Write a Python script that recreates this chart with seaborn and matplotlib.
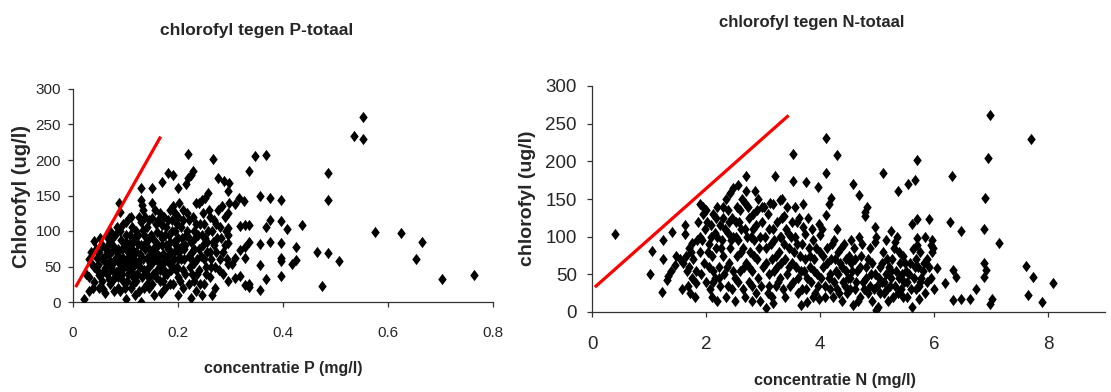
import matplotlib
matplotlib.use("Agg")
import matplotlib.pyplot as plt
import seaborn as sns
import pandas as pd

# ---------------- data: chlorofyl vs P-totaal (mg/l, ug/l) ----------------
p_dense = [
    (0.02, 4), (0.025, 40), (0.03, 15), (0.03, 35), (0.035, 55), (0.04, 86), (0.04, 28), (0.045, 45),
    (0.045, 62), (0.05, 20), (0.05, 38), (0.05, 70), (0.048, 52), (0.035, 70), (0.04, 50),
    (0.055, 80), (0.055, 30), (0.06, 12), (0.06, 48), (0.06, 65), (0.065, 92), (0.065, 40), (0.07, 85),
    (0.07, 25), (0.07, 58), (0.075, 72), (0.075, 45), (0.08, 35), (0.08, 95), (0.08, 60), (0.078, 15),
    (0.072, 50), (0.055, 60), (0.058, 42), (0.062, 75), (0.068, 32), (0.068, 68), (0.073, 88), (0.077, 55),
    (0.085, 20), (0.085, 75), (0.088, 139), (0.09, 127), (0.09, 48), (0.09, 100), (0.095, 62), (0.095, 30),
    (0.1, 4), (0.1, 85), (0.1, 112), (0.1, 55), (0.105, 70), (0.105, 40), (0.108, 95), (0.11, 20),
    (0.11, 65), (0.11, 120), (0.098, 78), (0.082, 42), (0.083, 70), (0.087, 55), (0.092, 88), (0.093, 40),
    (0.097, 50), (0.102, 30), (0.103, 60), (0.107, 82), (0.09, 15),
    (0.115, 50), (0.115, 85), (0.12, 30), (0.12, 100), (0.12, 70), (0.125, 58), (0.125, 15), (0.129, 160),
    (0.129, 144), (0.132, 137), (0.133, 130), (0.13, 0), (0.13, 112), (0.13, 80), (0.135, 45), (0.135, 95),
    (0.14, 62), (0.14, 25), (0.14, 105), (0.138, 120), (0.112, 42), (0.113, 75), (0.117, 60), (0.118, 92),
    (0.122, 40), (0.123, 82), (0.127, 68), (0.128, 50), (0.133, 60), (0.137, 75), (0.115, 25),
    (0.145, 75), (0.145, 35), (0.15, 160), (0.15, 140), (0.15, 55), (0.15, 118), (0.155, 88), (0.155, 10),
    (0.16, 45), (0.16, 98), (0.16, 68), (0.165, 125), (0.165, 30), (0.168, 12), (0.169, 169), (0.17, 80),
    (0.17, 108), (0.17, 55), (0.142, 48), (0.143, 88), (0.147, 65), (0.152, 40), (0.153, 75), (0.157, 60),
    (0.158, 110), (0.162, 80), (0.163, 55), (0.167, 95), (0.145, 20),
]
p_fill = [
    (0.03, 60), (0.038, 20), (0.043, 75), (0.052, 90), (0.057, 18), (0.063, 55), (0.067, 80), (0.071, 100),
    (0.074, 30), (0.079, 78), (0.083, 105), (0.086, 35), (0.089, 62), (0.094, 75), (0.096, 110), (0.099, 20),
    (0.101, 95), (0.104, 48), (0.106, 118), (0.109, 58), (0.112, 105), (0.114, 35), (0.116, 70), (0.119, 10),
    (0.121, 55), (0.124, 95), (0.126, 120), (0.131, 35), (0.134, 102), (0.136, 20), (0.139, 85), (0.141, 38),
    (0.144, 115), (0.146, 55), (0.149, 95), (0.151, 25), (0.154, 68), (0.156, 130), (0.159, 35), (0.161, 115),
    (0.164, 65), (0.166, 45), (0.169, 90), (0.171, 30), (0.174, 120), (0.176, 58), (0.179, 40), (0.181, 75),
    (0.184, 130), (0.186, 45), (0.189, 100), (0.191, 25), (0.194, 125), (0.196, 80), (0.199, 50), (0.201, 140),
    (0.204, 30), (0.206, 60), (0.209, 115), (0.211, 75), (0.214, 40), (0.218, 125), (0.221, 90), (0.224, 60),
    (0.226, 40), (0.229, 120), (0.231, 75), (0.234, 110), (0.236, 40), (0.239, 95), (0.241, 25), (0.244, 65),
    (0.248, 125), (0.251, 90), (0.254, 40), (0.256, 70), (0.259, 130), (0.263, 50), (0.268, 80), (0.273, 110),
    (0.278, 45), (0.283, 135), (0.286, 70), (0.291, 100), (0.293, 60), (0.298, 140),
]
p_mid = [
    (0.175, 40), (0.175, 95), (0.18, 181), (0.18, 65), (0.18, 115), (0.185, 25), (0.185, 85), (0.19, 179),
    (0.19, 50), (0.19, 135), (0.195, 100), (0.195, 72), (0.2, 160), (0.2, 120), (0.2, 35), (0.2, 90),
    (0.2, 60), (0.172, 68), (0.173, 45), (0.177, 80), (0.178, 105), (0.182, 55), (0.183, 95), (0.187, 70),
    (0.188, 115), (0.192, 85), (0.193, 60), (0.197, 45), (0.198, 110), (0.175, 20), (0.2, 10),
    (0.205, 78), (0.205, 105), (0.21, 45), (0.21, 130), (0.21, 20), (0.215, 95), (0.216, 166), (0.219, 175),
    (0.219, 209), (0.22, 65), (0.22, 115), (0.224, 179), (0.225, 5), (0.225, 85), (0.228, 185), (0.23, 30),
    (0.23, 100), (0.23, 55), (0.202, 70), (0.207, 90), (0.212, 60), (0.213, 80), (0.217, 100), (0.222, 50),
    (0.227, 70), (0.22, 25),
    (0.235, 140), (0.235, 15), (0.24, 139), (0.24, 75), (0.24, 45), (0.245, 95), (0.246, 144), (0.25, 110),
    (0.25, 25), (0.25, 60), (0.252, 146), (0.255, 85), (0.257, 154), (0.26, 35), (0.26, 120), (0.26, 70),
    (0.232, 90), (0.237, 60), (0.242, 110), (0.247, 80), (0.253, 50), (0.258, 100), (0.245, 10),
    (0.265, 100), (0.267, 201), (0.268, 115), (0.27, 50), (0.27, 20), (0.275, 90), (0.277, 130), (0.277, 174),
    (0.28, 60), (0.28, 105), (0.285, 40), (0.288, 171), (0.29, 80), (0.295, 30), (0.296, 125), (0.296, 157),
    (0.298, 168), (0.296, 104), (0.296, 95), (0.296, 83), (0.296, 54), (0.29, 120), (0.262, 60),
    (0.266, 85), (0.272, 70), (0.282, 90), (0.265, 10),
]
p_high = [
    (0.302, 54), (0.308, 62), (0.308, 34), (0.308, 138), (0.317, 146), (0.318, 36), (0.318, 73), (0.318, 107),
    (0.325, 142), (0.328, 24), (0.328, 62), (0.328, 78), (0.328, 109), (0.336, 21), (0.336, 25),
    (0.336, 84), (0.336, 109), (0.336, 184), (0.347, 205), (0.357, 17), (0.357, 52), (0.357, 82), (0.357, 150),
    (0.367, 32), (0.367, 106), (0.367, 207), (0.375, 84), (0.375, 115), (0.375, 146), (0.396, 37), (0.396, 58),
    (0.396, 62), (0.396, 83), (0.396, 114), (0.396, 144), (0.407, 103), (0.418, 54), (0.425, 59), (0.425, 77),
    (0.436, 109), (0.465, 71), (0.475, 23), (0.485, 69), (0.485, 144), (0.485, 182), (0.506, 58),
    (0.535, 234), (0.553, 229), (0.553, 261), (0.575, 99), (0.624, 97), (0.653, 60), (0.664, 85),
    (0.703, 32), (0.763, 38),
]
p_line_x = [0.005, 0.167]
p_line_y = [21, 233]

# ---------------- data: chlorofyl vs N-totaal ----------------
n_low = [
    (0.40, 104), (1.05, 81), (1.02, 51), (1.22, 26), (1.25, 96), (1.25, 71), (1.40, 106), (1.31, 42),
    (1.34, 48), (1.45, 62), (1.48, 75), (1.38, 55),
    (1.63, 115), (1.63, 103), (1.55, 70), (1.58, 30), (1.6, 65), (1.65, 75), (1.7, 60), (1.7, 85),
    (1.72, 25), (1.75, 45), (1.78, 70), (1.8, 20), (1.82, 55), (1.85, 95), (1.89, 144), (1.95, 140),
    (1.89, 100), (1.9, 80), (1.92, 50), (1.95, 130), (1.98, 110), (1.97, 65), (1.68, 35), (1.75, 92),
    (2.0, 135), (2.02, 120), (2.05, 90), (2.05, 60), (2.08, 100), (2.1, 20), (2.1, 75), (2.12, 130),
    (2.15, 45), (2.15, 105), (2.18, 85), (2.2, 15), (2.2, 140), (2.22, 60), (2.25, 115), (2.25, 35),
    (2.28, 95), (2.3, 75), (2.3, 125), (2.32, 50), (2.35, 20), (2.35, 150), (2.38, 105), (2.4, 65),
    (2.42, 158), (2.42, 85), (2.45, 125), (2.45, 30), (2.48, 164), (2.48, 100), (2.5, 45), (2.5, 15),
    (2.12, 40), (2.38, 135),
]
n_mid = [
    (2.52, 120), (2.55, 75), (2.57, 169), (2.57, 95), (2.6, 55), (2.6, 135), (2.62, 110), (2.65, 30),
    (2.65, 85), (2.68, 145), (2.7, 65), (2.71, 180), (2.71, 160), (2.72, 100), (2.75, 40), (2.75, 125),
    (2.78, 80), (2.8, 15), (2.8, 55), (2.82, 110), (2.85, 95), (2.86, 160), (2.88, 25), (2.9, 70),
    (2.9, 135), (2.92, 45), (2.95, 100), (2.95, 15), (2.98, 120), (3.0, 60), (2.55, 140), (2.68, 20),
    (2.83, 130),
    (3.02, 140), (3.05, 5), (3.05, 85), (3.08, 25), (3.1, 110), (3.1, 50), (3.12, 145), (3.15, 70),
    (3.15, 20), (3.18, 144), (3.2, 95), (3.21, 180), (3.22, 35), (3.25, 120), (3.25, 60), (3.28, 80),
    (3.3, 149), (3.3, 45), (3.32, 100), (3.33, 150), (3.35, 30), (3.36, 127), (3.38, 70), (3.4, 110),
    (3.42, 140), (3.42, 50), (3.45, 85), (3.48, 35), (3.5, 120), (3.5, 65), (3.18, 12),
    (3.53, 210), (3.53, 174), (3.56, 140), (3.59, 119), (3.6, 90), (3.62, 45), (3.65, 75), (3.67, 9),
    (3.7, 144), (3.71, 113), (3.72, 55), (3.74, 104), (3.75, 30), (3.76, 172), (3.78, 13), (3.8, 85),
    (3.82, 60), (3.85, 40), (3.88, 95), (3.9, 70), (3.92, 25), (3.95, 50), (3.97, 166), (3.98, 17),
    (3.99, 117), (4.0, 102), (4.0, 80), (3.58, 60), (3.68, 30), (3.86, 110),
]
n_fill = [
    (1.66, 55), (1.74, 80), (1.83, 38), (1.86, 120), (1.93, 95), (2.0, 40), (2.03, 80), (2.07, 30),
    (2.09, 115), (2.13, 55), (2.17, 125), (2.19, 100), (2.23, 45), (2.26, 85), (2.29, 140), (2.33, 110),
    (2.36, 60), (2.39, 35), (2.41, 120), (2.44, 95), (2.47, 55), (2.53, 100), (2.56, 40), (2.58, 120),
    (2.61, 80), (2.63, 150), (2.66, 60), (2.69, 110), (2.73, 140), (2.76, 60), (2.79, 100), (2.81, 35),
    (2.84, 75), (2.87, 115), (2.91, 150), (2.93, 85), (2.96, 35), (2.99, 140), (3.03, 100), (3.06, 65),
    (3.09, 130), (3.11, 35), (3.14, 90), (3.17, 110), (3.19, 55), (3.23, 75), (3.26, 40), (3.29, 100),
    (3.31, 65), (3.34, 125), (3.37, 90), (3.39, 20), (3.43, 105), (3.46, 60), (3.49, 100), (3.52, 40),
    (3.55, 80), (3.57, 100), (3.61, 25), (3.64, 125), (3.66, 55), (3.69, 90), (3.73, 70), (3.77, 45),
    (3.79, 125), (3.83, 75), (3.87, 20), (3.89, 55), (3.93, 85), (3.96, 35), (4.02, 45), (4.06, 75),
    (4.09, 20), (4.13, 65), (4.17, 30), (4.21, 90), (4.24, 40), (4.27, 70), (4.31, 50), (4.34, 25),
    (4.37, 85), (4.39, 60), (4.43, 35), (4.46, 70), (4.49, 45), (4.53, 30), (4.57, 55), (4.61, 70),
    (4.64, 40), (4.67, 15), (4.71, 60), (4.74, 90), (4.77, 30), (4.81, 45), (4.84, 70), (4.87, 35),
    (4.91, 65), (4.94, 30), (4.97, 50), (5.03, 45), (5.06, 25), (5.09, 65), (5.13, 40), (5.17, 30),
    (5.21, 60), (5.24, 45), (5.27, 70), (5.31, 35), (5.34, 55), (5.36, 25), (5.39, 80), (5.43, 50),
    (5.46, 20), (5.49, 65), (5.53, 40), (5.57, 50), (5.6, 30), (5.66, 60), (5.69, 70), (5.73, 35),
    (5.78, 45), (5.82, 65), (5.87, 40), (5.92, 60), (5.97, 95),
]
n_high = [
    (4.03, 110), (4.05, 60), (4.08, 35), (4.10, 231), (4.10, 185), (4.11, 129), (4.12, 85), (4.15, 45),
    (4.16, 144), (4.19, 151), (4.2, 70), (4.22, 20), (4.25, 95), (4.28, 55), (4.29, 208), (4.3, 30),
    (4.32, 80), (4.35, 65), (4.38, 15), (4.4, 40), (4.42, 90), (4.45, 55), (4.48, 25), (4.5, 75),
    (4.3, 110), (4.18, 50),
    (4.52, 45), (4.55, 65), (4.58, 170), (4.58, 9), (4.6, 85), (4.62, 30), (4.65, 55), (4.69, 155),
    (4.7, 20), (4.72, 75), (4.75, 40), (4.79, 133), (4.79, 127), (4.82, 140), (4.8, 60), (4.85, 25),
    (4.88, 85), (4.9, 50), (4.92, 15), (4.96, 113), (4.96, 93), (4.99, 100), (4.99, 3), (5.0, 35),
    (4.55, 95), (4.68, 100),
    (5.02, 7), (5.05, 60), (5.08, 40), (5.11, 185), (5.1, 80), (5.12, 25), (5.15, 50), (5.18, 70),
    (5.2, 15), (5.22, 35), (5.25, 55), (5.28, 20), (5.3, 85), (5.32, 93), (5.35, 100), (5.37, 160),
    (5.38, 45), (5.4, 65), (5.42, 30), (5.45, 75), (5.48, 40), (5.5, 55), (5.15, 95), (5.25, 108),
    (5.55, 170), (5.52, 20), (5.58, 65), (5.61, 117), (5.62, 6), (5.64, 84), (5.65, 45), (5.67, 175),
    (5.68, 30), (5.70, 202), (5.70, 123), (5.70, 98), (5.70, 89), (5.72, 60), (5.74, 17), (5.75, 40),
    (5.76, 79), (5.8, 55), (5.84, 100), (5.85, 25), (5.88, 70), (5.91, 124), (5.95, 89), (5.98, 85),
    (5.96, 79), (5.95, 45), (6.0, 30),
]
n_tail = [
    (6.05, 59), (6.19, 38), (6.28, 119), (6.32, 180), (6.34, 56), (6.39, 47), (6.34, 16), (6.47, 108),
    (6.48, 17), (6.63, 17), (6.73, 31), (6.87, 110), (6.89, 151), (6.87, 65), (6.92, 56), (6.87, 47),
    (6.95, 204), (6.99, 261), (7.01, 17), (6.98, 10), (7.14, 91), (7.61, 61), (7.65, 22), (7.70, 230),
    (7.74, 47), (7.89, 13), (8.08, 38),
]
n_line_x = [0.05, 3.45]
n_line_y = [33, 261]

p_df = pd.DataFrame(p_dense + p_fill + p_mid + p_high, columns=["conc", "chl"])
n_df = pd.DataFrame(n_low + n_mid + n_fill + n_high + n_tail, columns=["conc", "chl"])

# ---------------- figure ----------------
sns.set_style("white")
plt.rcParams["font.family"] = ["Liberation Sans", "DejaVu Sans"]

W, H = 1111, 392
fig = plt.figure(figsize=(W / 100, H / 100), dpi=100)


def px_axes(x0, y0, x1, y1):
    return fig.add_axes([x0 / W, 1 - y1 / H, (x1 - x0) / W, (y1 - y0) / H])


ax1 = px_axes(73, 89, 493, 302)
ax2 = px_axes(592, 86, 1105, 312)

diamond = [(0, 1), (0.75, 0), (0, -1), (-0.75, 0)]

for ax, df, lx, ly in [(ax1, p_df, p_line_x, p_line_y), (ax2, n_df, n_line_x, n_line_y)]:
    sns.scatterplot(data=df, x="conc", y="chl", marker=diamond, color="black", s=66,
                    linewidth=0, ax=ax, zorder=3)
    ax.plot(lx, ly, color="#ff0000", lw=2.3, zorder=4, solid_capstyle="butt")
    for side in ["top", "right"]:
        ax.spines[side].set_visible(False)
    for side in ["left", "bottom"]:
        ax.spines[side].set_color("#333333")
        ax.spines[side].set_linewidth(0.9)
    ax.set_xlabel("")
    ax.set_ylabel("")
    ax.set_ylim(0, 300)
    ax.set_yticks([0, 50, 100, 150, 200, 250, 300])
    ax.tick_params(axis="both", direction="out", length=3.5, width=0.9, color="#333333",
                   bottom=True, left=True)

ax1.set_xlim(0, 0.8)
ax1.set_xticks([0, 0.2, 0.4, 0.6, 0.8])
ax1.set_xticklabels(["0", "0.2", "0.4", "0.6", "0.8"])
ax1.tick_params(axis="x", labelsize=11, pad=14)
ax1.tick_params(axis="y", labelsize=11, pad=5)

ax2.set_xlim(0, 9)
ax2.set_xticks([0, 2, 4, 6, 8])
ax2.tick_params(axis="x", labelsize=13.5, pad=14)
ax2.tick_params(axis="y", labelsize=13.5, pad=7.5)


def ftext(x, y, s, **kw):
    fig.text(x / W, 1 - y / H, s, ha="center", va="center", fontweight="bold", **kw)


ftext(257, 30, "chlorofyl tegen P-totaal", fontsize=12.5)
ftext(812, 22, "chlorofyl tegen N-totaal", fontsize=12)
ftext(283, 368, "concentratie P (mg/l)", fontsize=11.5)
ftext(835, 381, "concentratie N (mg/l)", fontsize=11.7)
ftext(22, 197, "Chlorofyl (ug/l)", fontsize=14.5, rotation=90)
ftext(528, 198, "chlorofyl (ug/l)", fontsize=14, rotation=90)

fig.savefig("out.png", dpi=100)
